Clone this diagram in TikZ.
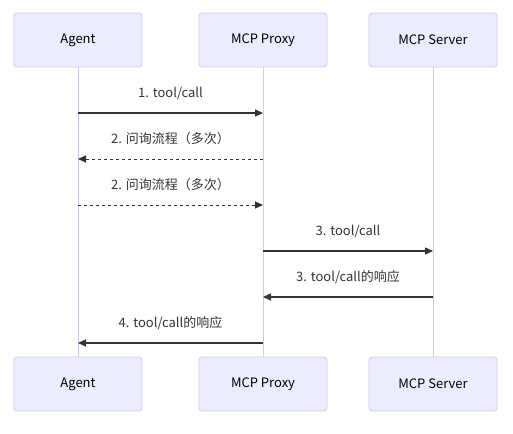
\documentclass[tikz,border=0pt]{standalone}
\usepackage{fontspec}
\setmainfont{Noto Sans CJK SC}
\usetikzlibrary{arrows.meta, positioning}
\definecolor{actorfill}{HTML}{ECECFF}
\definecolor{actorline}{HTML}{D3C8F2}
\definecolor{msgline}{HTML}{333333}
\tikzset{
  actor/.style={draw=actorline, fill=actorfill, line width=0.8pt, rounded corners=3pt,
    minimum width=128pt, minimum height=54pt, inner sep=0pt, font=\fontsize{13}{15}\selectfont},
  lifeline/.style={draw=actorline, line width=1pt},
  msg/.style={draw=msgline, line width=1.3pt, -{Triangle[length=8pt,width=7pt]}},
  msgdash/.style={msg, line width=1pt, dash pattern=on 3pt off 3pt},
  msglabel/.style={font=\fontsize{13}{15}\selectfont, text=msgline, inner sep=0pt}
}
\begin{document}
\begin{tikzpicture}[x=1pt, y=-1pt]
        \useasboundingbox (0,0) rectangle (513,433);

        % Lifelines first, so the boxes sit on top
        \coordinate (agentT) at (78,67);
        \coordinate (agentB) at (78,357);
        \coordinate (proxyT) at (263,67);
        \coordinate (proxyB) at (263,357);
        \coordinate (serverT) at (433,67);
        \coordinate (serverB) at (433,357);
        \draw[lifeline] (agentT) -- (agentB);
        \draw[lifeline] (proxyT) -- (proxyB);
        \draw[lifeline] (serverT) -- (serverB);

        % Actors on top
        \node[actor] (agentTop) at (78,40) {Agent};
        \node[actor] (proxyTop) at (263,40) {MCP Proxy};
        \node[actor] (serverTop) at (433,40) {MCP Server};

        % Actors at the bottom
        \node[actor] (agentBot) at (78,384) {Agent};
        \node[actor] (proxyBot) at (263,384) {MCP Proxy};
        \node[actor] (serverBot) at (433,384) {MCP Server};

        % Message end points
        \coordinate (a1) at (78,113);  \coordinate (p1) at (263,113);
        \coordinate (a2) at (78,159);  \coordinate (p2) at (263,159);
        \coordinate (a3) at (78,205);  \coordinate (p3) at (263,205);
        \coordinate (p4) at (263,251); \coordinate (s4) at (433,251);
        \coordinate (p5) at (263,297); \coordinate (s5) at (433,297);
        \coordinate (a6) at (78,343);  \coordinate (p6) at (263,343);

        % Messages
        \draw[msg] (a1) -- (p1);
        \node[msglabel] (m1) at (170.5,93) {1. tool/call};
        \draw[msgdash] (p2) -- (a2);
        \node[msglabel] (m2) at (170.5,139) {2. 问询流程（多次）};
        \draw[msgdash] (a3) -- (p3);
        \node[msglabel] (m3) at (170.5,185) {2. 问询流程（多次）};
        \draw[msg] (p4) -- (s4);
        \node[msglabel] (m4) at (348,231) {3. tool/call};
        \draw[msg] (s5) -- (p5);
        \node[msglabel] (m5) at (348,277) {3. tool/call的响应};
        \draw[msg] (p6) -- (a6);
        \node[msglabel] (m6) at (170.5,323) {4. tool/call的响应};
    \end{tikzpicture}
\end{document}
